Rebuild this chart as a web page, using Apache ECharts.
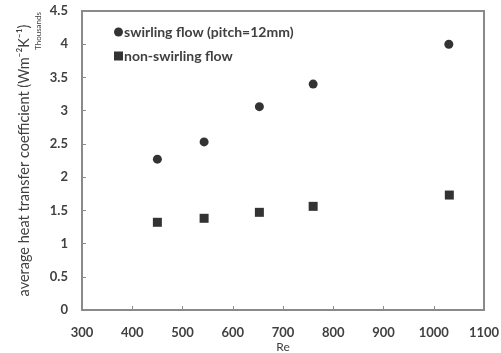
<!DOCTYPE html>
<html>
<head>
<meta charset="utf-8">
<script src="https://cdn.jsdelivr.net/npm/echarts@6/dist/echarts.min.js"></script>
<style>
  html, body { margin: 0; padding: 0; background: #fff; }
  #chart { width: 501px; height: 353px; }
</style>
</head>
<body>
<div id="chart"></div>
<script>
// Reynolds numbers and heat transfer coefficients (thousands of W m^-2 K^-1)
const swirlRe = [450, 543, 653, 760, 1030];
const swirlH = [2.27, 2.53, 3.06, 3.40, 4.00];
const plainRe = [450, 543, 653, 760, 1031];
const plainH = [1.32, 1.38, 1.47, 1.56, 1.73];
const swirlName = 'swirling flow (pitch=12mm)';
const plainName = 'non-swirling flow';

const pairs = (xs, ys) => xs.map((x, i) => [x, ys[i]]);
const font = 'Lato, "Open Sans", sans-serif';
const textColor = '#404040';
const axisColor = '#8a8a8a';

// plot area insets
const gridLeft = 82, gridRight = 17, gridTop = 11, gridBottom = 43;
const W = 501;

const chart = echarts.init(document.getElementById('chart'));
chart.setOption({
  animation: false,
  backgroundColor: '#fff',
  grid: {
    left: gridLeft, right: gridRight, top: gridTop, bottom: gridBottom,
    outerBoundsMode: 'none', containLabel: false,
    show: true, borderColor: axisColor, borderWidth: 2
  },
  legend: {
    orient: 'vertical',
    left: 109, top: 20,
    itemWidth: 9, itemHeight: 9, itemGap: 10,
    textStyle: { fontFamily: font, fontSize: 14, fontWeight: 'bold', color: textColor, padding: [0, 0, 0, -4] },
    data: [
      { name: swirlName, icon: 'circle' },
      { name: plainName, icon: 'rect' }
    ]
  },
  xAxis: {
    type: 'value', min: 300, max: 1100, interval: 100,
    axisLine: { lineStyle: { color: axisColor, width: 2 } },
    axisTick: { inside: true, length: 4, lineStyle: { color: axisColor } },
    axisLabel: {
      fontFamily: font, fontSize: 13, fontWeight: 'bold', color: textColor, margin: 16,
      formatter: v => String(v)
    },
    splitLine: { show: false }
  },
  yAxis: {
    type: 'value', min: 0, max: 4.5, interval: 0.5,
    name: 'average heat transfer coefficient (Wm\u207B\u00B2K\u207B\u00B9)',
    nameLocation: 'middle', nameRotate: 90, nameGap: 50,
    nameTextStyle: { fontFamily: font, fontSize: 14.5, color: textColor },
    axisLine: { lineStyle: { color: axisColor, width: 2 } },
    axisTick: { inside: true, length: 4, lineStyle: { color: axisColor } },
    axisLabel: { fontFamily: font, fontSize: 13, fontWeight: 'bold', color: textColor, margin: 14 },
    splitLine: { show: false }
  },
  graphic: [
    {
      type: 'text',
      left: 34, top: 12,
      rotation: Math.PI / 2,
      style: { text: 'Thousands', fontFamily: font, fontSize: 8, fill: textColor }
    },
    {
      // x-axis title, centred under the plot area
      type: 'text',
      x: gridLeft + (W - gridLeft - gridRight) / 2, y: 347,
      style: {
        text: 'Re', fontFamily: font, fontSize: 12, fill: textColor,
        align: 'center', verticalAlign: 'middle'
      }
    }
  ],
  series: [
    {
      name: swirlName, type: 'scatter', symbol: 'circle', symbolSize: 9,
      itemStyle: { color: '#000' },
      data: pairs(swirlRe, swirlH)
    },
    {
      name: plainName, type: 'scatter', symbol: 'rect', symbolSize: 9,
      itemStyle: { color: '#000' },
      data: pairs(plainRe, plainH)
    }
  ]
});
</script>
</body>
</html>
